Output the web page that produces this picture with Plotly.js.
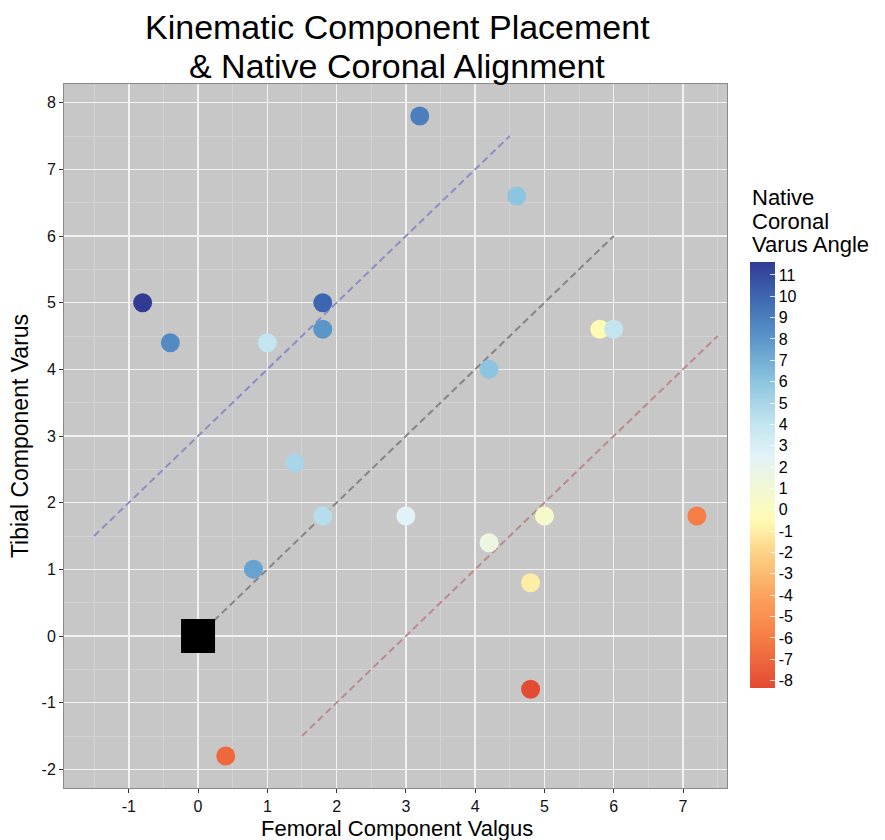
<!DOCTYPE html>
<html>
<head>
<meta charset="utf-8">
<script src="https://cdn.plot.ly/plotly-3.0.1.min.js"></script>
<style>body{margin:0;padding:0;background:#fff;} #chart{width:885px;height:840px;}</style>
</head>
<body>
<div id="chart"></div>
<script>
// Data
const femoralValgus = [-0.8, -0.4, 1.0, 1.8, 1.8, 3.2, 4.6, 4.2, 5.8, 6.0, 1.4, 1.8, 3.0, 0.8, 4.2, 5.0, 4.8, 7.2, 4.8, 0.4];
const tibialVarus   = [5.0, 4.4, 4.4, 5.0, 4.6, 7.8, 6.6, 4.0, 4.6, 4.6, 2.6, 1.8, 1.8, 1.0, 1.4, 1.8, 0.8, 1.8, -0.8, -1.8];
const nativeVarus   = [11.6, 8.5, 4.0, 10.0, 8.0, 9.0, 6.0, 6.0, -0.5, 4.0, 5.0, 4.5, 2.5, 7.5, 1.5, 0.5, -1.0, -6.0, -8.3, -7.0];

const targetX = [0];
const targetY = [0];

const upperLineX = [-1.5, 4.5];
const upperLineY = [1.5, 7.5];
const midLineX = [0, 6];
const midLineY = [0, 6];
const lowerLineX = [1.5, 7.5];
const lowerLineY = [-1.5, 4.5];

const xTicks = [-1, 0, 1, 2, 3, 4, 5, 6, 7];
const yTicks = [-2, -1, 0, 1, 2, 3, 4, 5, 6, 7, 8];
const colorTicks = [-8,-7,-6,-5,-4,-3,-2,-1,0,1,2,3,4,5,6,7,8,9,10,11];
const titleLines = ['Kinematic Component Placement', '& Native Coronal Alignment'];
const colorbarTitleLines = ['Native', 'Coronal', 'Varus Angle'];

const cmin = -8.35, cmax = 11.6;
const stopVals = [-8.35, -6, -4, -2, -0.5, 1, 2.5, 4, 6, 8, 10, 11.6];
const stopCols = ['#e34a33', '#f67d45', '#fba35d', '#fdd387', '#fffbb4', '#f2f8d4', '#e2f3f7', '#c3e5f0', '#8dc4e0', '#5b96c9', '#3d66b0', '#313a94'];
const colorscale = stopVals.map((v, i) => [(v - cmin) / (cmax - cmin), stopCols[i]]);

const FONT = 'Liberation Sans, Arial, sans-serif';
const lineStyle = (c) => ({color: c, width: 2, dash: '7px,4px'});

const traces = [
  {x: upperLineX, y: upperLineY, mode: 'lines', line: lineStyle('#8c8cc8'), showlegend: false, hoverinfo: 'skip'},
  {x: midLineX, y: midLineY, mode: 'lines', line: lineStyle('#858585'), showlegend: false, hoverinfo: 'skip'},
  {x: lowerLineX, y: lowerLineY, mode: 'lines', line: lineStyle('#bb8a8a'), showlegend: false, hoverinfo: 'skip'},
  {x: targetX, y: targetY, mode: 'markers', marker: {symbol: 'square', size: 34, color: '#000000'}, showlegend: false},
  {x: femoralValgus, y: tibialVarus, mode: 'markers', showlegend: false,
   marker: {size: 19, color: nativeVarus, cmin: cmin, cmax: cmax, colorscale: colorscale, line: {width: 0},
     colorbar: {
       thickness: 25, lenmode: 'pixels', len: 426, x: 1.035, xanchor: 'left', xpad: 0,
       y: 0.747, yanchor: 'top', ypad: 0, outlinewidth: 0,
       tickmode: 'array', tickvals: colorTicks, ticktext: colorTicks.map(String),
       ticks: 'inside', ticklen: 5, tickcolor: 'rgba(255,255,255,0.8)',
       tickfont: {family: FONT, size: 16, color: '#000'}
     }}}
];

// paper y for a pixel row, plot area spans rows 84..788
const py = (p) => (788 - p) / 704;
const px = (p) => (p - 64) / 663;

const annotations = [];
titleLines.forEach((t, i) => annotations.push({
  text: t, xref: 'paper', yref: 'paper', x: px(397), y: py([27, 66][i]), xanchor: 'center', yanchor: 'middle',
  showarrow: false, font: {family: FONT, size: 34, color: '#000'}
}));
colorbarTitleLines.forEach((t, i) => annotations.push({
  text: t, xref: 'paper', yref: 'paper', x: px(750), y: py([197, 221, 245][i]), xanchor: 'left', yanchor: 'middle',
  showarrow: false, font: {family: FONT, size: 22, color: '#000'}
}));
annotations.push({
  text: 'Femoral Component Valgus', xref: 'paper', yref: 'paper', x: px(397), y: py(828), xanchor: 'center', yanchor: 'middle',
  showarrow: false, font: {family: FONT, size: 22, color: '#000'}
});

const tickFont = {family: FONT, size: 16, color: '#111'};
const layout = {
  width: 885, height: 840,
  margin: {l: 64, r: 158, t: 84, b: 52},
  paper_bgcolor: '#ffffff', plot_bgcolor: '#c7c7c7',
  font: {family: FONT},
  annotations: annotations,
  xaxis: {range: [-1.935, 7.635], tickmode: 'array', tickvals: xTicks, ticktext: xTicks.map(String),
    showgrid: true, gridcolor: '#f2f2f2', gridwidth: 1.5,
    minor: {dtick: 0.5, tick0: 0.5, showgrid: true, gridcolor: '#d2d2d2', gridwidth: 1},
    zeroline: false, showline: true, mirror: true, linecolor: '#8a8a8a', linewidth: 1,
    ticks: 'outside', ticklen: 4, tickcolor: '#333', tickfont: tickFont},
  yaxis: {range: [-2.28, 8.28], tickmode: 'array', tickvals: yTicks, ticktext: yTicks.map(String),
    showgrid: true, gridcolor: '#f2f2f2', gridwidth: 1.5,
    minor: {dtick: 0.5, tick0: 0.5, showgrid: true, gridcolor: '#d2d2d2', gridwidth: 1},
    zeroline: false, showline: true, mirror: true, linecolor: '#8a8a8a', linewidth: 1,
    ticks: 'outside', ticklen: 4, tickcolor: '#333', tickfont: tickFont,
    title: {text: 'Tibial Component Varus', standoff: 6, font: {family: FONT, size: 23, color: '#000'}}}
};

Plotly.newPlot('chart', traces, layout, {displayModeBar: false, staticPlot: true});
</script>
</body>
</html>
